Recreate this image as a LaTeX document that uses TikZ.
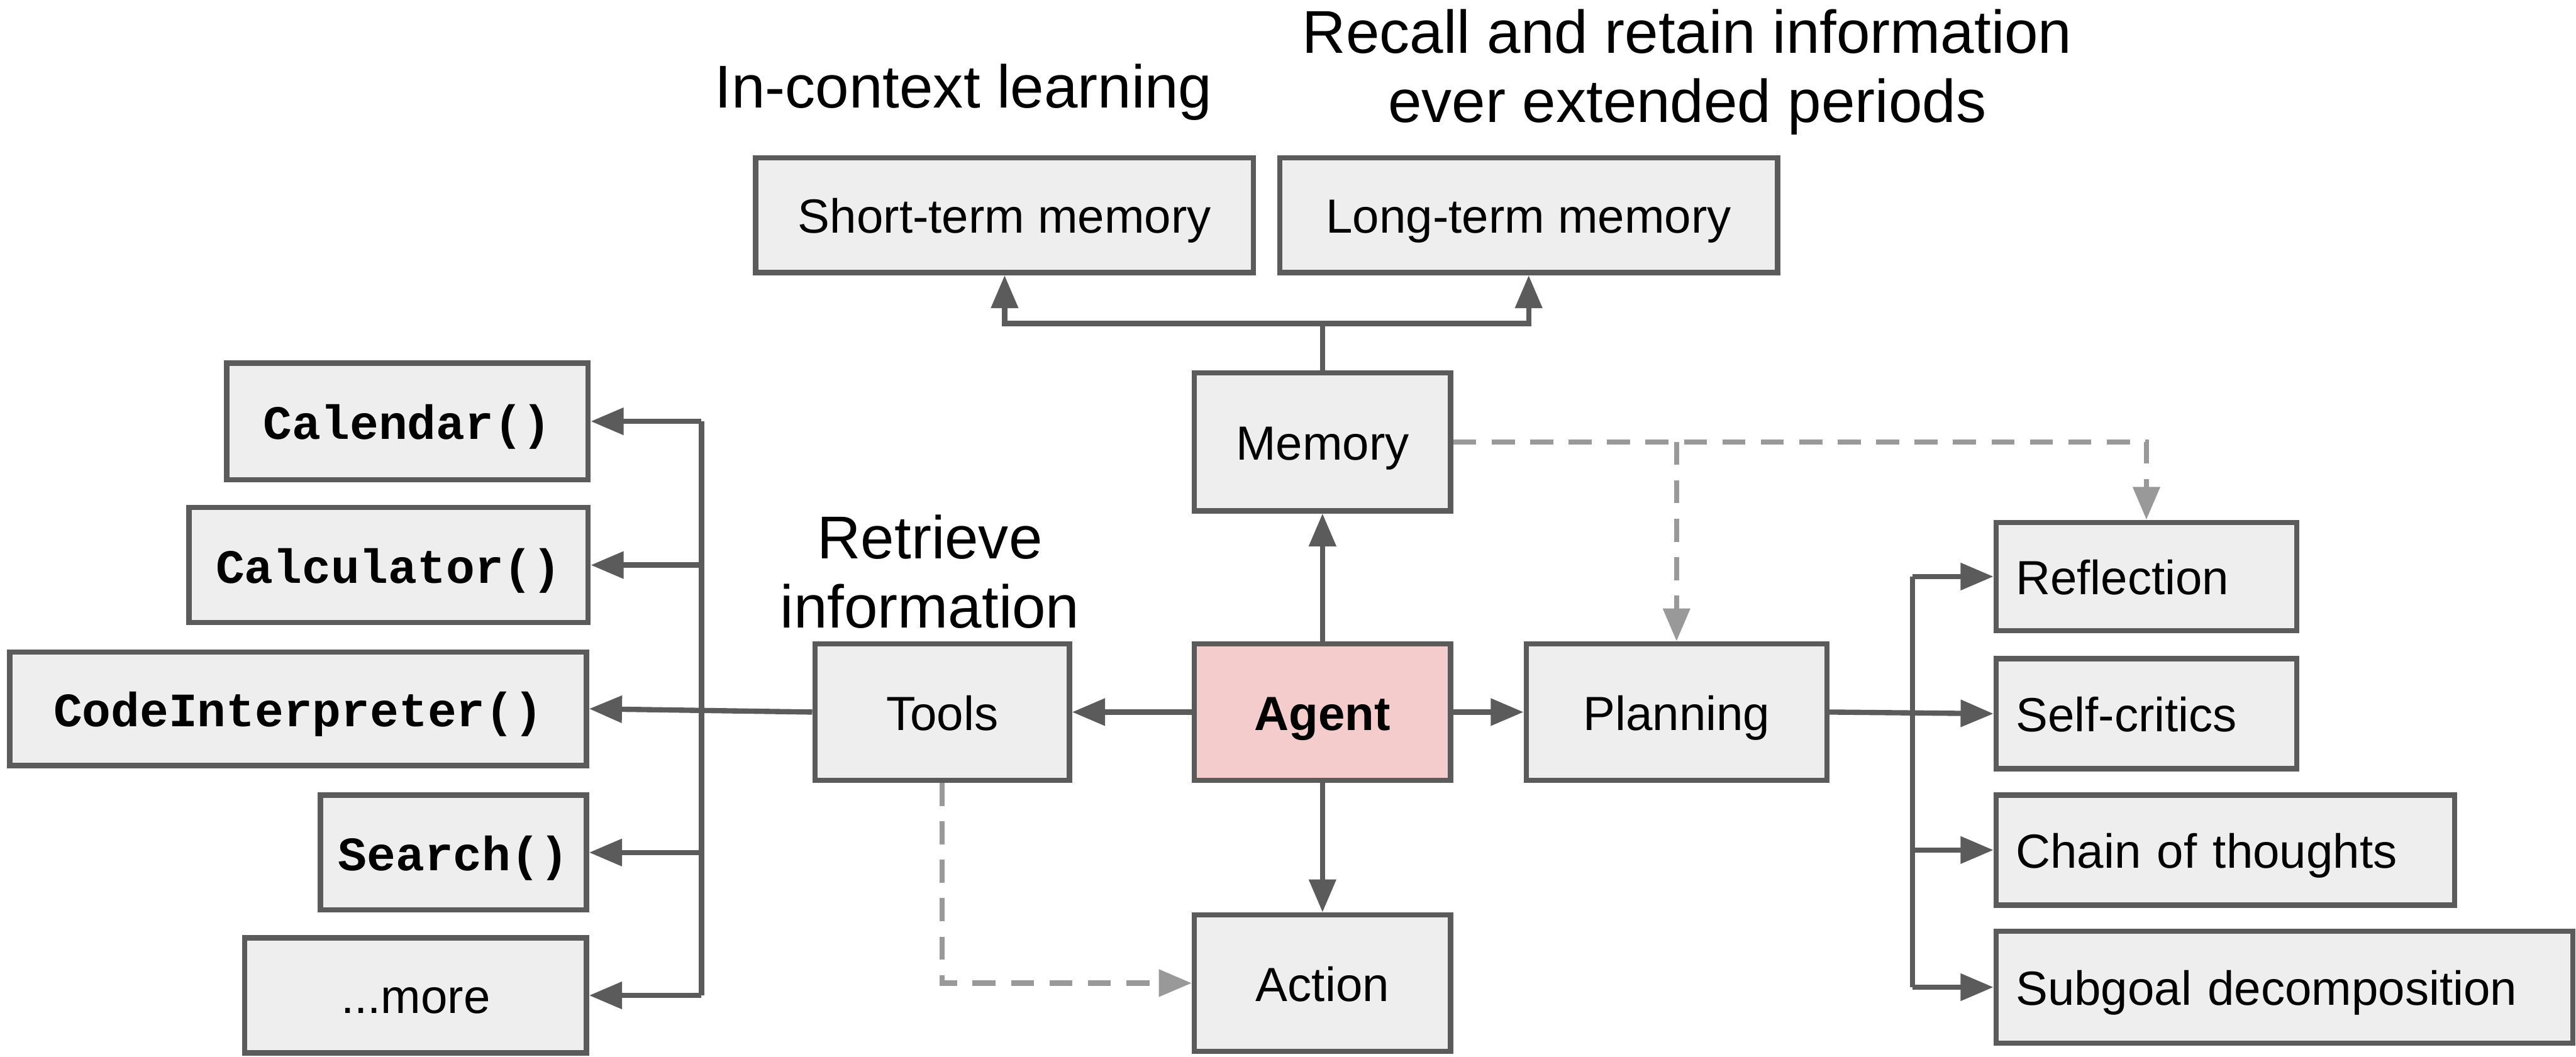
\documentclass[tikz,border=0pt]{standalone}
\usepackage{fontspec}
\setmainfont{Liberation Sans}
\setmonofont{Liberation Mono}
\usetikzlibrary{arrows.meta}
\definecolor{edgecol}{HTML}{5B5B5B}
\definecolor{boxfill}{HTML}{EEEEEE}
\definecolor{agentfill}{HTML}{F4CCCC}
\definecolor{dashcol}{HTML}{999999}
\tikzset{
  box/.style={draw=edgecol, fill=boxfill, line width=1.6pt, inner sep=0pt,
    text height=14pt, text depth=3pt, font=\fontsize{14.6}{17}\selectfont},
  lbox/.style={box, align=left, inner xsep=6pt},
  codebox/.style={box, font=\fontsize{14.6}{17}\selectfont\ttfamily\bfseries},
  conn/.style={draw=edgecol, line width=1.6pt},
  arr/.style={conn, -{Triangle[length=10pt,width=8pt]}},
  dsh/.style={draw=dashcol, line width=1.6pt, dash pattern=on 7pt off 4.7pt,
    -{Triangle[length=10pt,width=8pt]}},
  note/.style={font=\fontsize{18.4}{21}\selectfont, align=center, inner sep=0pt},
}
\begin{document}
\begin{tikzpicture}[x=0.5pt, y=-0.5pt]
\useasboundingbox (0,0) rectangle (1568,643.3);

% labels
\node[note] (lic) at (586.5,56) {In-context learning};
\node[note] (lrr) at (1027,44) {Recall and retain information\\ever extended periods};
\node[note] (lri) at (566,348) {Retrieve\\information};

% central boxes
\node[box, minimum width=151.5pt, minimum height=35pt] (stm) at (611.5,131) {Short-term memory};
\node[box, minimum width=151.5pt, minimum height=35pt] (ltm) at (930.5,131) {Long-term memory};
\node[box, minimum width=78pt, minimum height=42pt] (mem) at (805,269) {Memory};
\node[box, fill=agentfill, minimum width=78pt, minimum height=41.5pt, font=\fontsize{14.6}{17}\selectfont\bfseries] (agent) at (805,433.5) {Agent};
\node[box, minimum width=91.5pt, minimum height=41.5pt] (plan) at (1020.5,433.5) {Planning};
\node[box, minimum width=77.5pt, minimum height=41.5pt] (tools) at (573.5,433.5) {Tools};
\node[box, minimum width=78pt, minimum height=41.5pt] (action) at (805,598.5) {Action};

% tool boxes
\node[codebox, minimum width=110pt, minimum height=35.5pt] (cal) at (248,256.5) {Calendar()};
\node[codebox, minimum width=121.5pt, minimum height=35pt] (calc) at (236.5,344) {Calculator()};
\node[codebox, minimum width=175.5pt, minimum height=34.5pt] (code) at (181.5,431.5) {CodeInterpreter()};
\node[codebox, minimum width=81pt, minimum height=35pt] (search) at (276,519) {Search()};
\node[box, minimum width=104pt, minimum height=35pt] (more) at (253,606) {...more};

% planning boxes
\node[lbox, text width=79.5pt, minimum height=33pt] (refl) at (1306.5,351) {Reflection};
\node[lbox, text width=79.5pt, minimum height=33.5pt] (self) at (1306.5,434.5) {Self-critics};
\node[lbox, text width=127.5pt, minimum height=33.5pt] (chain) at (1354.5,517.5) {Chain of thoughts};
\node[lbox, text width=163.5pt, minimum height=34pt] (sub) at (1390.5,601) {Subgoal decomposition};

% memory split
\coordinate (mj) at (805,197);
\draw[conn] (mem.north) -- (mj);
\draw[arr] (mj) -| (stm.south);
\draw[arr] (mj) -| (ltm.south);

% agent links
\draw[arr] (agent.north) -- (mem.south);
\draw[arr] (agent.east) -- (plan.west);
\draw[arr] (agent.west) -- (tools.east);
\draw[arr] (agent.south) -- (action.north);

% tools tree
\coordinate (tx) at (427,433.5);
\draw[arr] (tools.west) -- (code.east);
\draw[conn] (tx |- cal.east) -- (tx |- more.east);
\draw[arr] (tx |- cal.east) -- (cal.east);
\draw[arr] (tx |- calc.east) -- (calc.east);
\draw[arr] (tx |- search.east) -- (search.east);
\draw[arr] (tx |- more.east) -- (more.east);

% planning tree
\coordinate (px) at (1164,433.5);
\draw[arr] (plan.east) -- (self.west);
\draw[conn] (px |- refl.west) -- (px |- sub.west);
\draw[arr] (px |- refl.west) -- (refl.west);
\draw[arr] (px |- chain.west) -- (chain.west);
\draw[arr] (px |- sub.west) -- (sub.west);

% dashed links
\draw[dsh] (mem.east) -| (refl.north);
\coordinate (dj) at (plan.north |- mem.east);
\draw[dsh] (dj) -- (plan.north);
\draw[dsh] (tools.south) |- (action.west);
\end{tikzpicture}
\end{document}
